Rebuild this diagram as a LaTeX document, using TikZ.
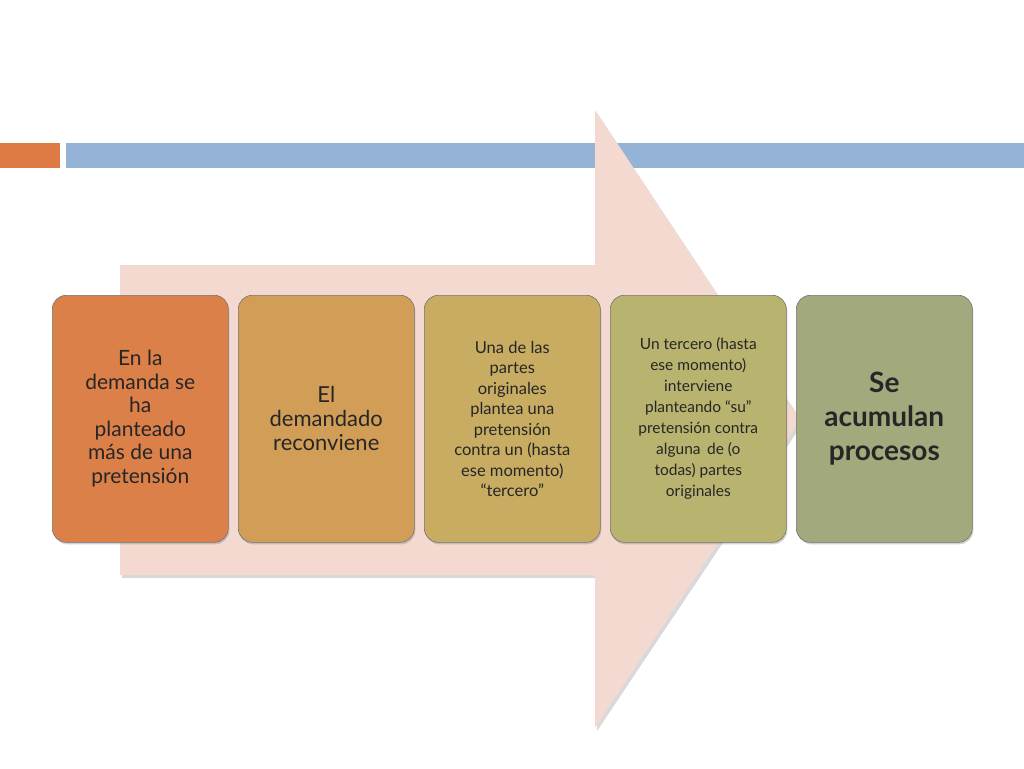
\documentclass[tikz,border=0pt]{standalone}
\usepackage{fontspec}
\setmainfont{Lato}
\usetikzlibrary{shadows}
\definecolor{arr}{HTML}{F4D9D0}
\definecolor{bar1}{HTML}{DE7B45}
\definecolor{bar2}{HTML}{95B3D7}
\definecolor{c1}{HTML}{DC8049}
\definecolor{c2}{HTML}{D29E57}
\definecolor{c3}{HTML}{C7AC62}
\definecolor{c4}{HTML}{B8B36F}
\definecolor{c5}{HTML}{A2A97D}
\begin{document}
\begin{tikzpicture}[x=1pt,y=-1pt,
  stage/.style={draw=black!55,line width=0.6pt,rounded corners=14pt,minimum width=176pt,minimum height=247pt,
    align=center,font=\color{black!85},anchor=north west,
    drop shadow={shadow xshift=1pt,shadow yshift=-2pt,opacity=0.35}}]
\useasboundingbox (0,0) rectangle (1024,768);
\fill[white] (0,0) rectangle (1024,768);
\fill[bar1] (0,143) rectangle (60,168);
\fill[bar2] (66,143) rectangle (1024,168);
\fill[black!15] (122,268)--(597,268)--(597,113)--(803,423)--(597,731)--(597,578)--(122,578)--cycle;
\fill[arr] (120,265)--(595,265)--(595,110)--(800,420)--(595,728)--(595,575)--(120,575)--cycle;
\node[stage,fill=c1,font=\fontsize{21}{23.5}\selectfont\color{black!85}] (b1) at (52,295) {En la\\ demanda se\\ ha\\ planteado\\ más de una\\ pretensión};
\node[stage,fill=c2,font=\fontsize{22}{24}\selectfont\color{black!85}] (b2) at (238,295) {El\\ demandado\\ reconviene};
\node[stage,fill=c3,font=\fontsize{16.5}{20.5}\selectfont\color{black!85}] (b3) at (424,295) {Una de las\\ partes\\ originales\\ plantea una\\ pretensión\\ contra un (hasta\\ ese momento)\\ “tercero”};
\node[stage,fill=c4,font=\fontsize{15.5}{21}\selectfont\color{black!85}] (b4) at (610,295) {Un tercero (hasta\\ ese momento)\\ interviene\\ planteando “su”\\ pretensión contra\\ alguna\, de (o\\ todas) partes\\ originales};
\node[stage,fill=c5,font=\fontsize{28}{34}\selectfont\bfseries\color{black!85}] (b5) at (796,295) {Se\\ acumulan\\ procesos};
\end{tikzpicture}
\end{document}
